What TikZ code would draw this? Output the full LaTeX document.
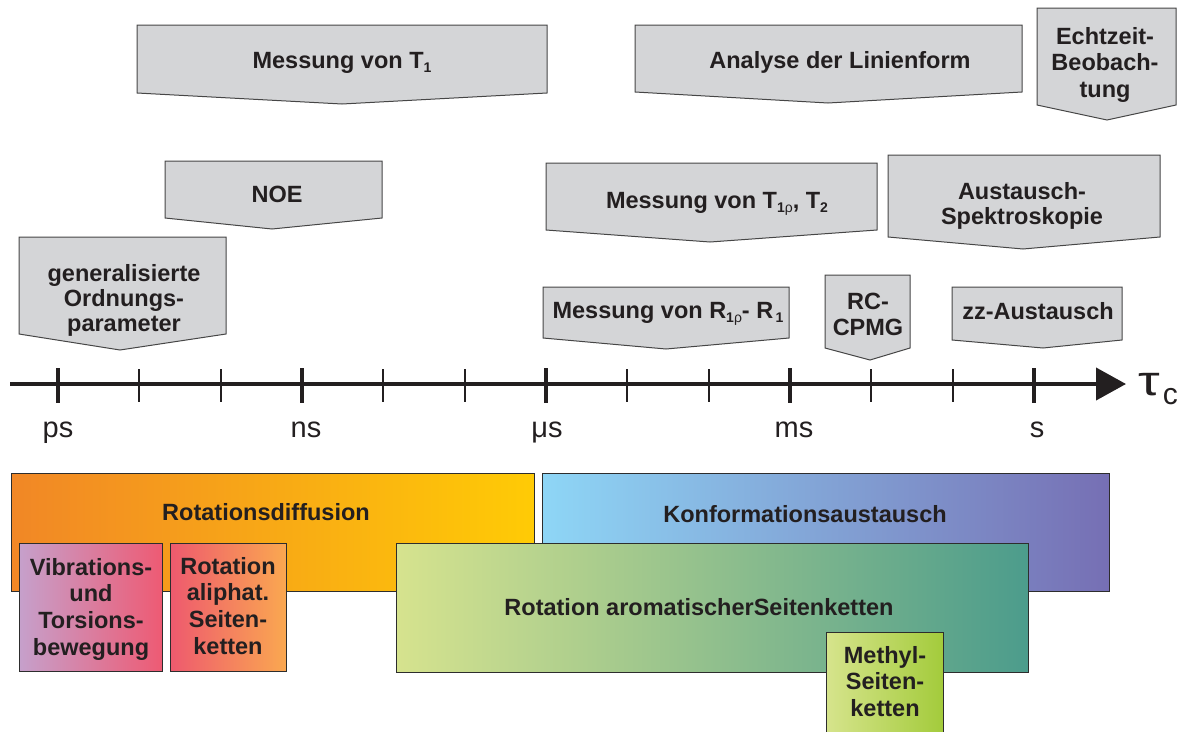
\documentclass[tikz,border=0pt]{standalone}
\usepackage{fontspec}
\setmainfont{Liberation Sans}
\usetikzlibrary{arrows.meta}
\definecolor{txt}{RGB}{35,31,32}
\definecolor{cfill}{RGB}{212,213,215}
\definecolor{cline}{RGB}{70,70,70}
\definecolor{bline}{RGB}{45,45,45}
\definecolor{orA}{RGB}{241,135,38}
\definecolor{orB}{RGB}{255,203,5}
\definecolor{blA}{RGB}{142,214,246}
\definecolor{blB}{RGB}{118,111,180}
\definecolor{viA}{RGB}{198,160,203}
\definecolor{viB}{RGB}{238,90,115}
\definecolor{alA}{RGB}{238,90,110}
\definecolor{alB}{RGB}{250,168,80}
\definecolor{arA}{RGB}{214,227,142}
\definecolor{arB}{RGB}{76,156,140}
\definecolor{meA}{RGB}{214,228,140}
\definecolor{meB}{RGB}{163,203,59}
\newcommand{\lowsub}[1]{\raisebox{-4.5pt}{\fontsize{14}{14}\selectfont #1}}
\tikzset{
  callout/.style={fill=cfill, draw=cline, line width=1pt, line join=miter},
  ctext/.style={text=txt, inner sep=0pt, anchor=north, align=center,
    font=\bfseries\fontsize{23.5}{25}\selectfont},
  bbox/.style={draw=bline, line width=1.2pt, inner sep=0pt, anchor=north west},
  btext/.style={text=txt, inner sep=0pt, anchor=north, align=center,
    font=\bfseries\fontsize{23.5}{26.7}\selectfont},
  axlabel/.style={text=txt, inner sep=0pt, anchor=base, font=\fontsize{29}{29}\selectfont},
}
\begin{document}
\begin{tikzpicture}[x=1pt,y=-1pt]
\useasboundingbox (0,0) rectangle (1194,731);

% ---------- callouts ----------
\draw[callout] (137,25) -- (547,25) -- (547,93) -- (342,104) -- (137,93) -- cycle;
\node[ctext] (t1) at (342,52) {Messung von T\lowsub{1}};

\draw[callout] (635,25) -- (1022,25) -- (1022,92) -- (828,103) -- (635,92) -- cycle;
\node[ctext] (lf) at (840,51) {Analyse der Linienform};

\draw[callout] (1037,8) -- (1176,8) -- (1176,105) -- (1107,120) -- (1037,105) -- cycle;
\node[ctext, font=\bfseries\fontsize{23.5}{26.5}\selectfont] (ez) at (1105,27) {Echtzeit-\\Beobach-\\tung};

\draw[callout] (165,161) -- (382,161) -- (382,218) -- (272,229) -- (165,218) -- cycle;
\node[ctext] (noe) at (277,186) {NOE};

\draw[callout] (546,163) -- (877,163) -- (877,230) -- (710,242) -- (546,230) -- cycle;
\node[ctext] (t1r) at (717,192) {Messung von T\lowsub{1{\mdseries ρ}}, T\lowsub{2}};

\draw[callout] (888,155) -- (1160,155) -- (1160,237) -- (1023,249) -- (888,237) -- cycle;
\node[ctext, font=\bfseries\fontsize{23.5}{25}\selectfont] (as) at (1022,182) {Austausch-\\Spektroskopie};

\draw[callout] (19,237) -- (226,237) -- (226,334) -- (120,350) -- (19,334) -- cycle;
\node[ctext] (gop) at (124,264) {generalisierte\\Ordnungs-\\parameter};

\draw[callout] (543,287) -- (789,287) -- (789,338) -- (666,349) -- (543,338) -- cycle;
\node[ctext] (r1r) at (668,302) {Messung von R\lowsub{1{\mdseries ρ}}- R\lowsub{\,1}};

\draw[callout] (825,275) -- (910,275) -- (910,348) -- (870,360) -- (825,348) -- cycle;
\node[ctext, font=\bfseries\fontsize{23.5}{26}\selectfont] (rc) at (868,293) {RC-\\CPMG};

\draw[callout] (952,287) -- (1122,287) -- (1122,340) -- (1043,348) -- (952,340) -- cycle;
\node[ctext] (zz) at (1038,302) {zz-Austausch};

% ---------- axis ----------
\coordinate (axL) at (10,384);
\coordinate (axR) at (1126,384);
\draw[line width=4pt, draw=txt, -{Triangle[length=30pt,width=32pt]}] (axL) -- (axR);
\foreach \i in {0,...,12}{
  \pgfmathsetmacro{\xx}{58+81.33*\i}
  \pgfmathtruncatemacro{\mm}{mod(\i,3)}
  \coordinate (tk\i) at (\xx,384);
  \ifnum\mm=0
    \draw[line width=4.5pt, draw=txt] (tk\i) ++(0,-16) -- ++(0,35);
  \else
    \draw[line width=2pt, draw=txt] (tk\i) ++(0,-15) -- ++(0,33);
  \fi
}
\node[axlabel] (ps) at (58,437) {ps};
\node[axlabel] (ns) at (306,437) {ns};
\node[axlabel] (us) at (547,437) {μs};
\node[axlabel] (ms) at (794,437) {ms};
\node[axlabel] (s) at (1037,437) {s};
\node[text=txt, inner sep=0pt, anchor=base west] (tau) at (1138,395)
  {\fontsize{42}{42}\selectfont\scalebox{1.3}[1]{τ}\hspace{3pt}\raisebox{-9pt}{\fontsize{30}{30}\selectfont c}};

% ---------- bottom boxes ----------
\node[bbox, left color=orA, right color=orB, minimum width=523pt, minimum height=118pt] (rd) at (11,473) {};
\node[btext] (rdt) at (266,503) {Rotationsdiffusion};

\node[bbox, left color=blA, right color=blB, minimum width=567pt, minimum height=118pt] (ka) at (542,473) {};
\node[btext] (kat) at (805,505) {Konformationsaustausch};

\node[bbox, left color=viA, right color=viB, minimum width=143pt, minimum height=128pt] (vt) at (19,543) {};
\node[btext] (vtt) at (91,558) {Vibrations-\\und\\Torsions-\\bewegung};

\node[bbox, left color=alA, right color=alB, minimum width=116pt, minimum height=128pt] (al) at (170,543) {};
\node[btext] (alt) at (228,557) {Rotation\\aliphat.\\Seiten-\\ketten};

\node[bbox, left color=arA, right color=arB, minimum width=632pt, minimum height=129pt] (ar) at (396,543) {};
\node[btext] (art) at (699,598) {Rotation aromatischerSeitenketten};

\node[bbox, left color=meA, right color=meB, minimum width=117pt, minimum height=103pt] (me) at (826,632) {};
\node[btext] (met) at (885,646) {Methyl-\\Seiten-\\ketten};
\end{tikzpicture}
\end{document}
